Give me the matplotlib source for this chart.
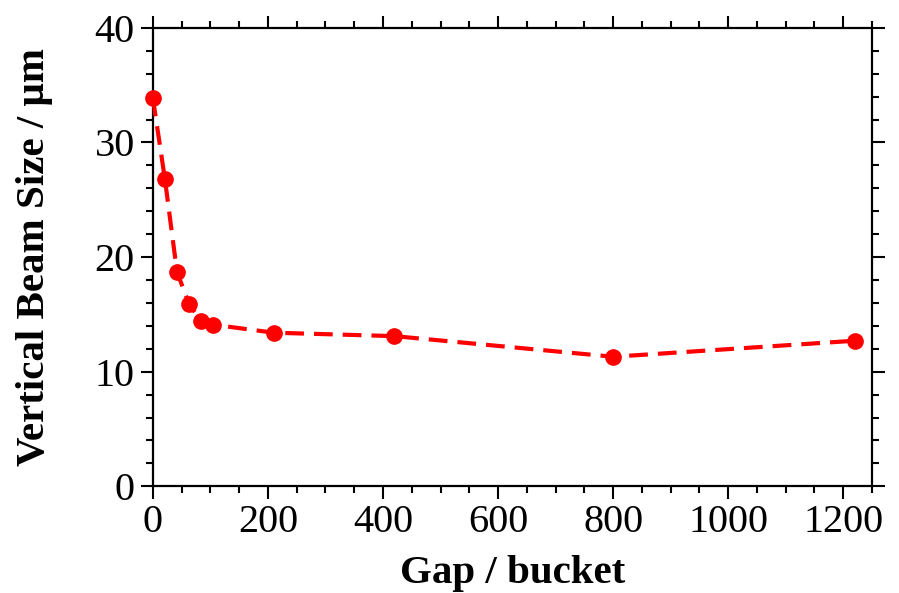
import matplotlib
matplotlib.use("Agg")
import matplotlib.pyplot as plt
from matplotlib.ticker import MultipleLocator

# data
gap = [0, 21, 42, 63, 84, 105, 210, 420, 800, 1220]
beam_size = [33.9, 26.8, 18.7, 15.9, 14.4, 14.1, 13.4, 13.1, 11.3, 12.7]

plt.rcParams['font.family'] = ['Liberation Serif', 'DejaVu Serif']

fig = plt.figure(figsize=(8.99, 5.93), dpi=100)
ax = fig.add_axes([0.170, 0.180, 0.800, 0.773])

ax.plot(gap, beam_size, color='#ff0000', linestyle=(0, (4.5, 2.4)), linewidth=3,
        marker='o', markersize=11, clip_on=False, zorder=3)

ax.set_xlim(0, 1250)
ax.set_ylim(0, 40)
ax.xaxis.set_major_locator(MultipleLocator(200))
ax.xaxis.set_minor_locator(MultipleLocator(50))
ax.yaxis.set_major_locator(MultipleLocator(10))
ax.yaxis.set_minor_locator(MultipleLocator(2))

for s in ax.spines.values():
    s.set_linewidth(1.6)
ax.tick_params(which='both', direction='out', top=True, right=True,
               labeltop=False, labelright=False, width=1.5, labelsize=29)
ax.tick_params(which='major', length=9, pad=4)
ax.tick_params(which='minor', length=5)

ax.set_xlabel('Gap / bucket', fontsize=29.5, fontweight='bold', labelpad=10)
ax.set_ylabel('Vertical Beam Size / μm', fontsize=29.5, fontweight='bold', labelpad=30)

fig.savefig('out.png', dpi=100)
